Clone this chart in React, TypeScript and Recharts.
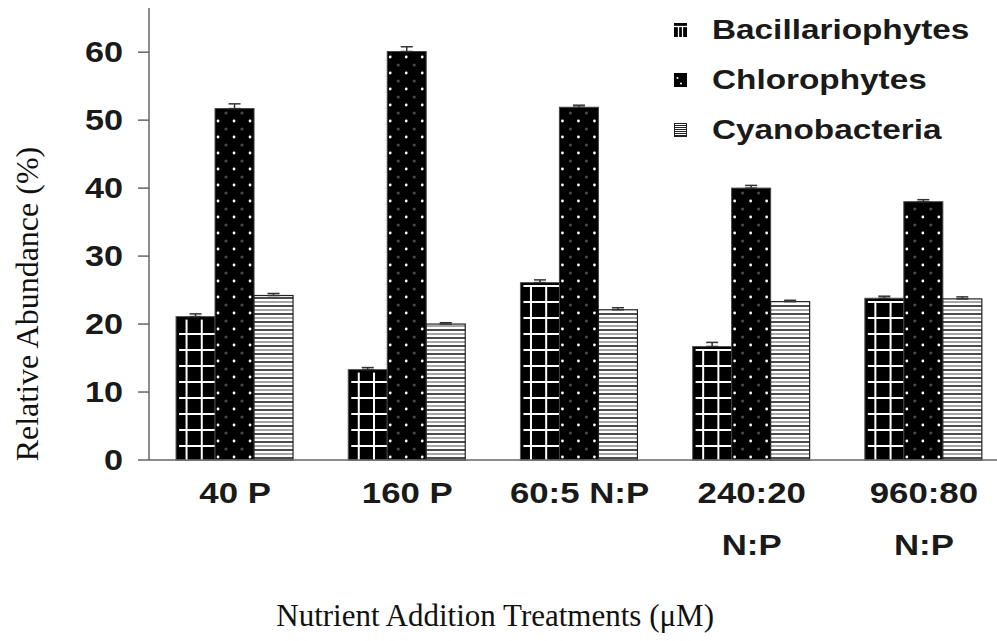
import React from 'react';
import { BarChart, Bar, XAxis, YAxis, ErrorBar, Label } from 'recharts';

const categories = ['40 P', '160 P', '60:5 N:P', '240:20\nN:P', '960:80\nN:P'];
const bacillariophytes = [21.1, 13.3, 26.1, 16.7, 23.8];
const chlorophytes = [51.7, 60.1, 51.9, 40.0, 38.0];
const cyanobacteria = [24.2, 20.0, 22.1, 23.3, 23.7];
const bacErr = [0.4, 0.3, 0.4, 0.6, 0.3];
const chlErr = [0.7, 0.7, 0.3, 0.4, 0.3];
const cyaErr = [0.3, 0.2, 0.3, 0.2, 0.3];
const yTicks = [0, 10, 20, 30, 40, 50, 60];

const data = categories.map((name, i) => ({
  name,
  bac: bacillariophytes[i],
  chl: chlorophytes[i],
  cya: cyanobacteria[i],
  bacE: [0, bacErr[i]],
  chlE: [0, chlErr[i]],
  cyaE: [0, cyaErr[i]],
}));

const sans = '"Liberation Sans", Arial, sans-serif';
const serif = '"Liberation Serif", serif';

// bar fills drawn in the bar's own box
function GridBar(props: any) {
  const { x, y, width, height } = props;
  if (!height || height <= 0) return null;
  const bottom = y + height;
  const hLines = [];
  for (let ly = bottom - 14; ly > y + 3; ly -= 16) hLines.push(ly);
  return (
    <g>
      <rect x={x} y={y} width={width} height={height} fill="#000" stroke="#555" strokeWidth={1} />
      {[0.27, 0.66].map((f) => (
        <line key={f} x1={x + width * f} x2={x + width * f} y1={y + 3} y2={bottom} stroke="#fff" strokeWidth={2} />
      ))}
      {hLines.map((ly) => (
        <line key={ly} x1={x + 3} x2={x + width} y1={ly} y2={ly} stroke="#fff" strokeWidth={2} />
      ))}
    </g>
  );
}

function DotBar(props: any) {
  const { x, y, width, height } = props;
  if (!height || height <= 0) return null;
  const bottom = y + height;
  const dots = [];
  for (let dy = bottom - 3; dy > y + 2; dy -= 16) {
    for (let dx = x + 3; dx < x + width - 1; dx += 16) {
      dots.push(<circle key={`w${dx}-${dy}`} cx={dx} cy={dy} r={1.4} fill="#fff" />);
    }
  }
  for (let dy = bottom - 11; dy > y + 2; dy -= 16) {
    for (let dx = x + 11; dx < x + width - 1; dx += 16) {
      dots.push(<circle key={`g${dx}-${dy}`} cx={dx} cy={dy} r={1.6} fill="#4a4a4a" />);
    }
  }
  return (
    <g>
      <rect x={x} y={y} width={width} height={height} fill="#000" stroke="#444" strokeWidth={1} />
      {dots}
    </g>
  );
}

function StripeBar(props: any) {
  const { x, y, width, height } = props;
  if (!height || height <= 0) return null;
  const bottom = y + height;
  const lines = [];
  let k = 0;
  for (let ly = bottom - 2; ly > y + 1; ly -= 4, k++) {
    lines.push(
      <line key={ly} x1={x} x2={x + width} y1={ly} y2={ly} stroke={k % 2 ? '#888' : '#111'} strokeWidth={1.6} />
    );
  }
  return (
    <g>
      <rect x={x} y={y} width={width} height={height} fill="#fff" />
      {lines}
      <rect x={x} y={y} width={width} height={height} fill="none" stroke="#222" strokeWidth={1.2} />
    </g>
  );
}

function YTick({ x, y, payload }: any) {
  return (
    <text
      transform={`translate(${x},${y}) scale(1.18,1)`}
      dy={10}
      textAnchor="end"
      fontFamily={sans}
      fontWeight="bold"
      fontSize={29}
      fill="#1a1a1a"
    >
      {payload.value}
    </text>
  );
}

function XTick({ x, y, payload }: any) {
  const lines = String(payload.value).split('\n');
  return (
    <g transform={`translate(${x},${y})`}>
      {lines.map((t, i) => (
        <text
          key={i}
          transform={`translate(0,${43 + i * 52}) scale(1.16,1)`}
          textAnchor="middle"
          fontFamily={sans}
          fontWeight="bold"
          fontSize={30}
          fill="#1a1a1a"
        >
          {t}
        </text>
      ))}
    </g>
  );
}

const legendNames = ['Bacillariophytes', 'Chlorophytes', 'Cyanobacteria'];
const legendKinds = ['grid', 'dot', 'stripe'];

function LegendIcon({ kind }: { kind: string }) {
  if (kind === 'grid') {
    return (
      <svg width={13} height={14} style={{ display: 'block' }}>
        <rect x={0} y={0} width={13} height={14} fill="#000" />
        <line x1={0} x2={13} y1={3.5} y2={3.5} stroke="#fff" strokeWidth={1.3} />
        <line x1={4.5} x2={4.5} y1={3.5} y2={14} stroke="#fff" strokeWidth={1.3} />
        <line x1={8.5} x2={8.5} y1={3.5} y2={14} stroke="#fff" strokeWidth={1.3} />
      </svg>
    );
  }
  if (kind === 'dot') {
    return (
      <svg width={13} height={14} style={{ display: 'block' }}>
        <rect x={0} y={0} width={13} height={14} fill="#000" />
        <circle cx={3.5} cy={5} r={1} fill="#fff" />
        <circle cx={7} cy={10.5} r={1} fill="#fff" />
      </svg>
    );
  }
  return (
    <svg width={13} height={14} style={{ display: 'block' }}>
      <rect x={0.5} y={0.5} width={12} height={13} fill="#fff" stroke="#222" />
      {[2.5, 4.5, 6.5, 8.5, 10.5, 12.5].map((v) => (
        <line key={v} x1={0} x2={13} y1={v} y2={v} stroke="#222" strokeWidth={1} />
      ))}
    </svg>
  );
}

function LegendBox() {
  return (
    <div style={{ position: 'absolute', left: 674, top: 5 }}>
      {legendNames.map((name, i) => (
        <div key={name} style={{ display: 'flex', alignItems: 'center', height: 50 }}>
          <LegendIcon kind={legendKinds[i]} />
          <span
            style={{
              display: 'inline-block',
              marginLeft: 25,
              fontFamily: sans,
              fontWeight: 'bold',
              fontSize: 28,
              lineHeight: '32px',
              color: '#1a1a1a',
              transform: 'scale(1.19,1)',
              transformOrigin: 'left center',
              whiteSpace: 'nowrap',
            }}
          >
            {name}
          </span>
        </div>
      ))}
    </div>
  );
}

export default function App() {
  return (
    <div style={{ position: 'absolute', left: 0, top: 0, width: 997, height: 641, overflow: 'hidden', background: '#fff' }}>
      <BarChart
        width={1010}
        height={641}
        data={data}
        margin={{ top: 8, right: 0, left: 0, bottom: 0 }}
        barCategoryGap="15.7%"
        barGap={0}
      >
        <XAxis
          dataKey="name"
          height={181}
          interval={0}
          tickLine={false}
          tickSize={0}
          tickMargin={0}
          axisLine={{ stroke: '#666', strokeWidth: 1.5 }}
          tick={<XTick />}
        >
          <Label
            content={({ viewBox }: any) => (
              <text
                x={viewBox.x + viewBox.width * 0.402}
                y={viewBox.y + 166}
                textAnchor="middle"
                fontFamily={serif}
                fontSize={31}
                fill="#111"
              >
                Nutrient Addition Treatments (μM)
              </text>
            )}
          />
        </XAxis>
        <YAxis
          width={149}
          domain={[0, 66.5]}
          ticks={yTicks}
          interval={0}
          tickSize={11}
          tickMargin={15}
          axisLine={{ stroke: '#666', strokeWidth: 1.5 }}
          tickLine={{ stroke: '#666', strokeWidth: 1.5 }}
          tick={<YTick />}
        >
          <Label
            content={({ viewBox }: any) => (
              <text
                transform={`translate(38,${viewBox.y + viewBox.height * 0.655}) rotate(-90)`}
                textAnchor="middle"
                fontFamily={serif}
                fontSize={32}
                fill="#111"
              >
                Relative Abundance (%)
              </text>
            )}
          />
        </YAxis>
        <Bar dataKey="bac" name="Bacillariophytes" shape={<GridBar />} isAnimationActive={false}>
          <ErrorBar dataKey="bacE" width={6} stroke="#333" strokeWidth={1.5} direction="y" />
        </Bar>
        <Bar dataKey="chl" name="Chlorophytes" shape={<DotBar />} isAnimationActive={false}>
          <ErrorBar dataKey="chlE" width={6} stroke="#333" strokeWidth={1.5} direction="y" />
        </Bar>
        <Bar dataKey="cya" name="Cyanobacteria" shape={<StripeBar />} isAnimationActive={false}>
          <ErrorBar dataKey="cyaE" width={6} stroke="#333" strokeWidth={1.5} direction="y" />
        </Bar>
      </BarChart>
      <LegendBox />
    </div>
  );
}
